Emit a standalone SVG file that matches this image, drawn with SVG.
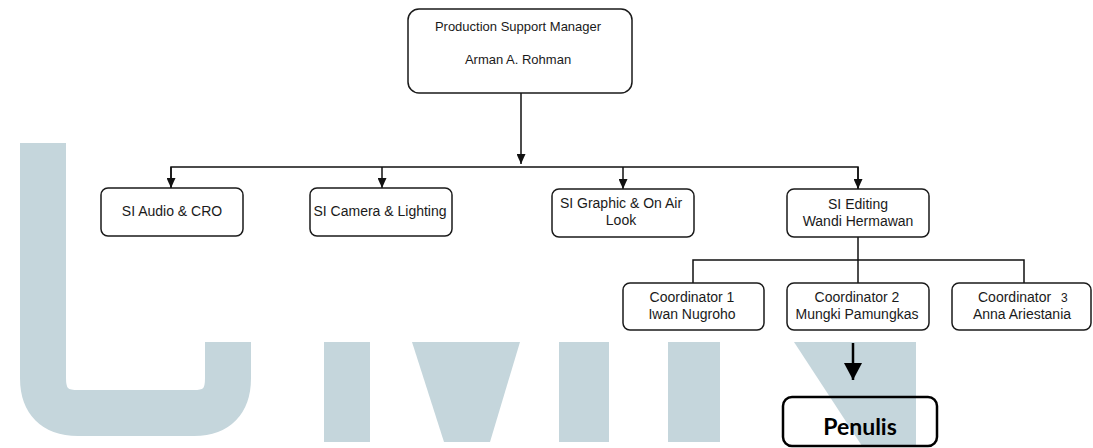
<svg xmlns="http://www.w3.org/2000/svg" width="1093" height="448" viewBox="0 0 1093 448">
  <defs>
    <marker id="arr" markerUnits="userSpaceOnUse" markerWidth="10" markerHeight="9" refX="10" refY="4.5" orient="auto">
      <path d="M0,0 L10,4.5 L0,9 Z" fill="#111"/>
    </marker>
    <marker id="arrBig" markerUnits="userSpaceOnUse" markerWidth="17" markerHeight="18" refX="17" refY="9" orient="auto">
      <path d="M0,0 L17,9 L0,18 Z" fill="#000"/>
    </marker>
  </defs>
  <style>
    .box { fill: #fff; stroke: #1a1a1a; stroke-width: 1.5; }
    .t { font-family: "Liberation Sans", Arial, sans-serif; font-size: 14px; fill: #1a1a1a; text-anchor: middle; }
    .ts { font-size: 13px; }
    .conn { fill: none; stroke: #111; stroke-width: 1.5; }
    .wm { fill: #c5d6dc; }
  </style>
  <rect width="1093" height="448" fill="#fff"/>
  <g id="watermark">
    <path d="M43,143 L43,378 Q43,413 78,413 L194,413 Q228,413 228,378 L228,342" fill="none" stroke="#c5d6dc" stroke-width="46"/>
    <rect class="wm" x="324" y="342" width="46" height="100"/>
    <polygon class="wm" points="412,342 520,342 490,442 444,442"/>
    <rect class="wm" x="559" y="342" width="50" height="100"/>
    <rect class="wm" x="668" y="342" width="52" height="100"/>
    <polygon class="wm" points="794,342 916,342 916,446 862,446"/>
  </g>
  <g id="connectors">
    <line class="conn" x1="521" y1="93" x2="521" y2="164" marker-end="url(#arr)"/>
    <polyline class="conn" points="171,189 171,167 858,167 858,189"/>
    <line class="conn" x1="171" y1="167" x2="171" y2="188" marker-end="url(#arr)"/>
    <line class="conn" x1="382" y1="167" x2="382" y2="188" marker-end="url(#arr)"/>
    <line class="conn" x1="623" y1="167" x2="623" y2="189" marker-end="url(#arr)"/>
    <line class="conn" x1="858" y1="167" x2="858" y2="189" marker-end="url(#arr)"/>
    <line class="conn" x1="858" y1="237" x2="858" y2="283"/>
    <polyline class="conn" points="693,283 693,260 1024,260 1024,283"/>
    <line x1="853" y1="343" x2="853" y2="380" stroke="#000" stroke-width="2.5" marker-end="url(#arrBig)"/>
  </g>
  <g id="manager">
    <rect class="box" x="408" y="9" width="224" height="84" rx="11"/>
    <text class="t ts" x="518" y="31">Production Support Manager</text>
    <text class="t ts" x="518" y="64">Arman A. Rohman</text>
  </g>
  <g id="audio">
    <rect class="box" x="101" y="188" width="142" height="48" rx="7"/>
    <text class="t" x="172" y="216">SI Audio &amp; CRO</text>
  </g>
  <g id="camera">
    <rect class="box" x="310" y="188" width="142" height="48" rx="7"/>
    <text class="t" x="380" y="216">SI Camera &amp; Lighting</text>
  </g>
  <g id="graphic">
    <rect class="box" x="552" y="189" width="142" height="48" rx="7"/>
    <text class="t" x="621" y="208">SI Graphic &amp; On Air</text>
    <text class="t" x="621" y="225">Look</text>
  </g>
  <g id="editing">
    <rect class="box" x="787" y="189" width="142" height="48" rx="7"/>
    <text class="t" x="858" y="209">SI Editing</text>
    <text class="t" x="858" y="226">Wandi Hermawan</text>
  </g>
  <g id="coord1">
    <rect class="box" x="623" y="283" width="141" height="47" rx="7"/>
    <text class="t" x="692" y="302">Coordinator 1</text>
    <text class="t" x="692" y="319">Iwan Nugroho</text>
  </g>
  <g id="coord2">
    <rect class="box" x="787" y="283" width="142" height="47" rx="7"/>
    <text class="t" x="857" y="302">Coordinator 2</text>
    <text class="t" x="857" y="319">Mungki Pamungkas</text>
  </g>
  <g id="coord3">
    <rect class="box" x="952" y="283" width="139" height="47" rx="7"/>
    <text class="t" x="978" y="302" style="text-anchor:start">Coordinator <tspan dx="6" font-size="12">3</tspan></text>
    <text class="t" x="1022" y="319">Anna Ariestania</text>
  </g>
  <g id="penulis">
    <rect x="783" y="397" width="154" height="49" rx="9" fill="none" stroke="#000" stroke-width="2.5"/>
    <text x="860" y="435" font-family="Lato, 'Open Sans', sans-serif" font-weight="bold" font-size="23" fill="#000" text-anchor="middle">Penulis</text>
  </g>
</svg>
